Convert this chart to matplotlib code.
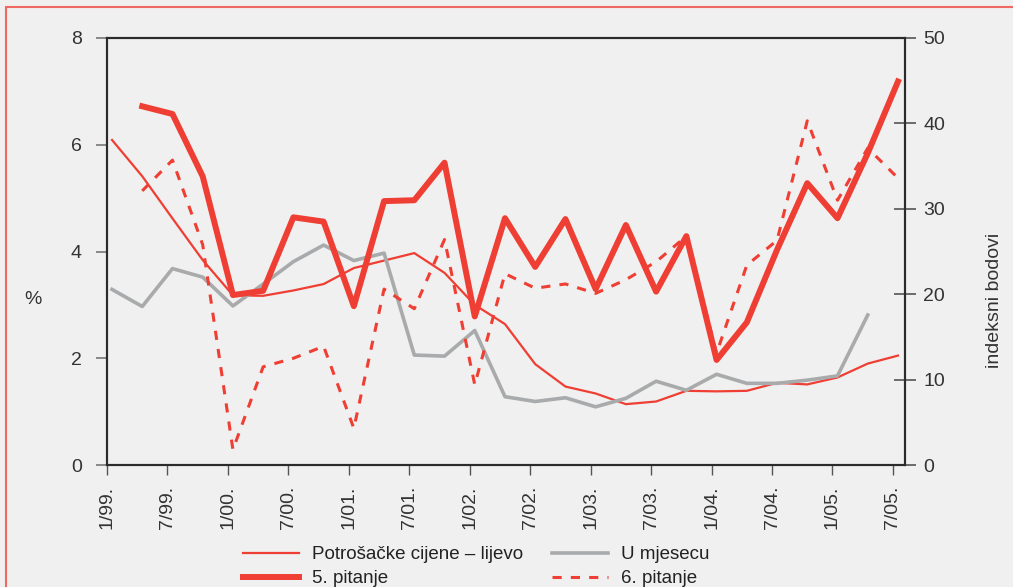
import numpy as np
import matplotlib
matplotlib.use("Agg")
import matplotlib.pyplot as plt
from matplotlib.patches import Rectangle

plt.rcParams['font.family'] = ['Liberation Sans Narrow', 'Liberation Sans', 'DejaVu Sans']

# quarterly observations, month index counted from 1/99
tick_labels = ["1/99.", "7/99.", "1/00.", "7/00.", "1/01.", "7/01.", "1/02.",
               "7/02.", "1/03.", "7/03.", "1/04.", "7/04.", "1/05.", "7/05."]

cijene = [6.09, 5.41, 4.62, 3.84, 3.18, 3.17, 3.27, 3.39, 3.69, 3.83, 3.97, 3.60,
          3.00, 2.64, 1.89, 1.47, 1.34, 1.14, 1.19, 1.39, 1.38, 1.39, 1.54, 1.51,
          1.64, 1.90, 2.05]
mjesec = [3.29, 2.97, 3.68, 3.52, 2.98, 3.39, 3.81, 4.12, 3.83, 3.97, 2.06, 2.04,
          2.52, 1.28, 1.19, 1.26, 1.09, 1.25, 1.57, 1.40, 1.70, 1.53, 1.53, 1.59,
          1.67, 2.81]
pitanje5 = [42.0, 41.1, 33.8, 19.9, 20.4, 29.0, 28.5, 18.6, 30.9, 31.0, 35.4,
            17.4, 28.9, 23.2, 28.8, 20.6, 28.1, 20.3, 26.8, 12.3, 16.7, 25.2,
            33.0, 28.9, 36.5, 44.9]
pitanje6 = [32.1, 35.7, 25.8, 1.8, 11.5, 12.5, 13.9, 4.3, 20.6, 18.3, 26.4,
            9.4, 22.4, 20.7, 21.2, 20.1, 21.7, 23.8, 26.8, 13.1, 23.4, 26.3,
            40.3, 31.0, 37.1, 33.6]

red = "#ef3e33"
grey = "#a9aaac"
bg = "#eff0ef"

x_all = 0.5 + 3 * np.arange(len(cijene))

fig = plt.figure(figsize=(10.13, 5.87), dpi=100, facecolor=bg)
fig.patches.append(Rectangle((0.006, -0.05), 1.05, 1.038, transform=fig.transFigure,
                             fill=False, edgecolor="#f06a63", linewidth=1.5))

ax = fig.add_axes([0.1056, 0.2078, 0.7878, 0.7275])
ax.set_facecolor(bg)
ax2 = ax.twinx()

l1, = ax.plot(x_all, cijene, color=red, lw=1.6, label="Potrošačke cijene – lijevo")
l3, = ax.plot(x_all[:len(mjesec)], mjesec, color=grey, lw=2.6, label="U mjesecu")
l2, = ax2.plot(x_all[1:], pitanje5, color=red, lw=4.3, label="5. pitanje")
l4, = ax2.plot(x_all[1:], pitanje6, color=red, lw=2.2, dashes=(3, 3), label="6. pitanje")

ax.set_xlim(0, 79.2)
ax.set_ylim(0, 8)
ax2.set_ylim(0, 50)
ax.set_yticks([0, 2, 4, 6, 8])
ax2.set_yticks([0, 10, 20, 30, 40, 50])
ax.set_xticks(np.arange(0, 79, 6))
ax.set_xticklabels(tick_labels, rotation=90)

for a in (ax, ax2):
    for s in a.spines.values():
        s.set_color("#2b2b2b")
        s.set_linewidth(1.5)

ax.tick_params(axis="y", direction="out", length=8, width=1.2, color="#777777",
               pad=10, labelsize=14, labelcolor="#333333")
ax.tick_params(axis="x", direction="out", length=7, width=1.0, color="#555555",
               pad=8, labelsize=14, labelcolor="#333333")
ax2.tick_params(axis="y", direction="inout", length=16, width=1.2, color="#555555",
                pad=5, labelsize=14, labelcolor="#333333")

fig.text(0.033, 1 - 300 / 587, "%", fontsize=14, color="#333333", ha="center", va="center")
fig.text(0.982, 1 - 300 / 587, "indeksni bodovi", fontsize=14, color="#333333",
         ha="center", va="center", rotation=90)

fig.legend(handles=[l1, l2, l3, l4], ncol=2, loc="lower center",
           bbox_to_anchor=(0.47, -0.029), frameon=False, fontsize=13.5,
           handlelength=3.0, handletextpad=0.7, columnspacing=1.5,
           labelspacing=0.35, labelcolor="#222222")

fig.savefig("out.png", dpi=100, facecolor=bg)
